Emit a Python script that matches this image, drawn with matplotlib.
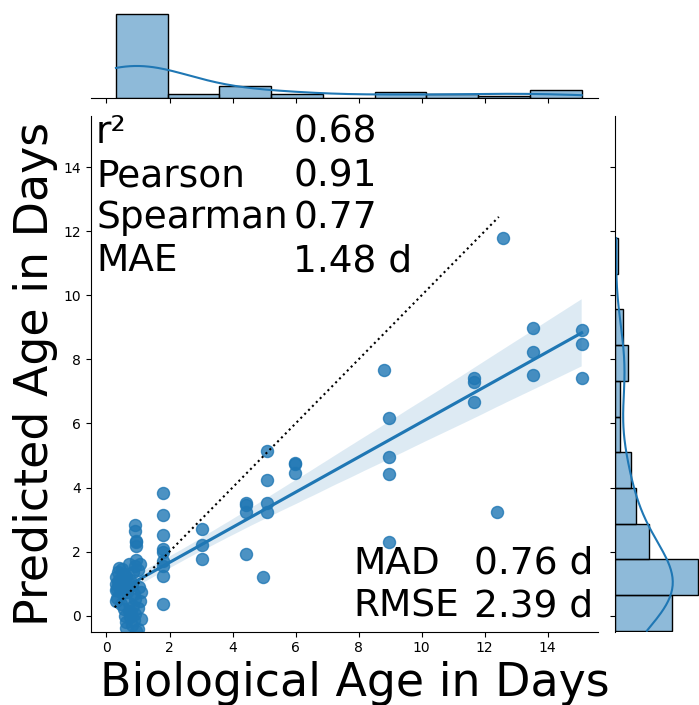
import matplotlib
matplotlib.use('Agg')
import matplotlib.pyplot as plt
import seaborn as sns
import numpy as np

# biological (true) age vs predicted age
bio_age = [
    # dense cluster under 1.2 days
    0.30, 0.32, 0.45, 0.55, 0.58, 0.62, 0.63, 0.70, 0.72, 0.75, 0.79, 0.80, 0.85, 0.88,
    0.90, 0.92, 0.95, 1.00, 1.00, 1.05, 1.11,
    0.30, 0.30, 0.31, 0.33, 0.35, 0.36, 0.38, 0.40, 0.45, 0.48, 0.50, 0.53, 0.55, 0.60,
    0.63, 0.65, 0.69, 0.72, 0.75, 0.80, 0.85, 0.88, 0.92, 0.95, 1.00, 1.02, 1.06, 1.11,
    0.92, 0.92, 0.93, 0.93, 0.95,
    1.78, 1.78, 1.78, 1.78, 1.78, 1.78, 1.78, 1.78, 1.78,
    3.02, 3.02, 3.02,
    4.44, 4.44, 4.44, 4.44,
    5.08, 5.08, 5.08, 5.08, 4.97,
    5.98, 5.98, 5.98,
    8.81, 8.96, 8.96, 8.96, 8.96,
    11.66, 11.66, 11.66,
    12.39, 12.57,
    13.53, 13.53, 13.53,
    15.08, 15.08, 15.08,
]
pred_age = [
    0.47, 0.55, 0.35, 0.20, 0.00, -0.20, -0.37, 0.15, 0.40, -0.05, 0.10, -0.30, 0.30, -0.15,
    0.52, 0.05, -0.47, -0.42, 0.25, 0.45, -0.10,
    1.00, 0.80, 1.20, 0.83, 1.35, 1.09, 0.95, 1.50, 1.15, 1.46, 0.70, 0.88, 1.30, 1.05,
    1.25, 0.75, 0.83, 1.60, 1.10, 0.95, 1.35, 0.68, 1.55, 1.75, 1.41, 0.90, 1.62, 0.73,
    2.83, 2.63, 2.29, 2.33, 2.19,
    3.82, 3.13, 2.53, 2.08, 1.98, 1.70, 1.55, 1.25, 0.37,
    2.69, 2.21, 1.77,
    3.52, 3.46, 3.23, 1.94,
    5.13, 4.22, 3.52, 3.25, 1.21,
    4.76, 4.72, 4.46,
    7.67, 6.18, 4.96, 4.43, 2.31,
    7.42, 7.31, 6.66,
    3.25, 11.79,
    8.98, 8.24, 7.51,
    8.92, 8.47, 7.41,
]

stat_names = ['r²', 'Pearson', 'Spearman', 'MAE']
stat_values = ['0.68', '0.91', '0.77', '1.48 d']
err_names = ['MAD', 'RMSE']
err_values = ['0.76 d', '2.39 d']
diag = [0.26, 12.45]
lims = (-0.5, 15.6)

x = np.array(bio_age)
y = np.array(pred_age)

fig = plt.figure(figsize=(6.99, 7.05), dpi=100)
ax = fig.add_axes([0.1298, 0.104, 0.7258, 0.7315])
ax_top = fig.add_axes([0.1298, 0.8606, 0.7258, 0.1258], sharex=ax)
ax_right = fig.add_axes([0.8798, 0.104, 0.1252, 0.7315], sharey=ax)

sns.regplot(x=x, y=y, ax=ax, color='C0', seed=0, scatter_kws={'s': 75})
ax.plot(diag, diag, ':', color='black', lw=1.5)
ax.set_xlim(lims)
ax.set_ylim(lims)

sns.histplot(x=x, bins=9, kde=True, ax=ax_top, color='C0', edgecolor='black')
sns.histplot(y=y, bins=11, kde=True, ax=ax_right, color='C0', edgecolor='black')

for a in [ax, ax_top, ax_right]:
    sns.despine(ax=a)
sns.despine(ax=ax_top, left=True)
sns.despine(ax=ax_right, bottom=True)
ax_top.set_ylabel('')
ax_top.set_xlabel('')
ax_right.set_xlabel('')
ax_right.set_ylabel('')
ax_top.tick_params(labelbottom=False, left=False, labelleft=False)
ax_right.tick_params(labelleft=False, bottom=False, labelbottom=False)

ax.set_xlabel('Biological Age in Days', fontsize=33)
ax.xaxis.label.set_x(0.52)
ax.set_ylabel('Predicted Age in Days', fontsize=33)

rows = [0.948, 0.864, 0.782, 0.699]
for name, val, yy in zip(stat_names, stat_values, rows):
    ax.text(0.0104, yy, name, fontsize=27, transform=ax.transAxes, va='baseline')
    ax.text(0.399, yy, val, fontsize=27, transform=ax.transAxes, va='baseline')
for name, val, yy in zip(err_names, err_values, [0.112, 0.029]):
    ax.text(0.518, yy, name, fontsize=27, transform=ax.transAxes, va='baseline')
    ax.text(0.755, yy, val, fontsize=27, transform=ax.transAxes, va='baseline')

fig.savefig('out.png', dpi=100)
